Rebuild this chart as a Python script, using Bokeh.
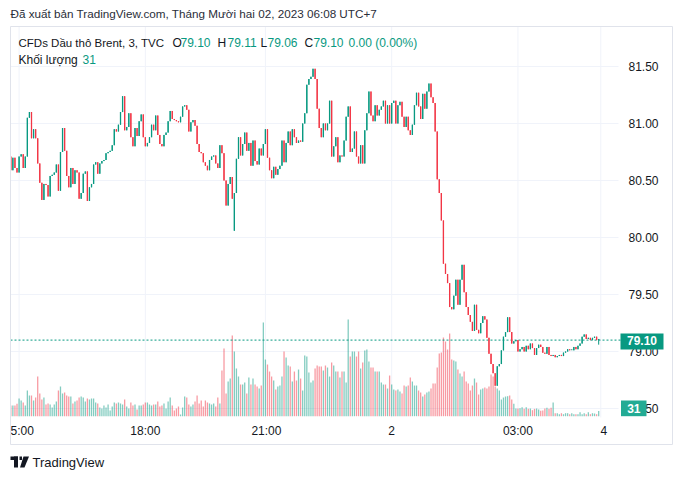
import numpy as np
from bokeh.plotting import figure
from bokeh.models import Range1d, ColumnDataSource
from bokeh.core.properties import value
from bokeh.embed import file_html
from bokeh.resources import INLINE

# ---------------- data (3-minute bars, CFD Brent) ----------------
closes = [
    80.59, 80.70, 80.61, 80.57, 80.71, 80.73, 80.61, 80.71, 81.05, 81.10,
    80.87, 80.95, 80.87, 80.65, 80.48, 80.33, 80.47, 80.46, 80.36, 80.54,
    80.55, 80.57, 80.64, 80.41, 80.75, 80.96, 80.76, 80.54, 80.44, 80.61,
    80.47, 80.59, 80.57, 80.34, 80.39, 80.56, 80.58, 80.32, 80.44, 80.47,
    80.64, 80.66, 80.56, 80.65, 80.67, 80.68, 80.74, 80.75, 80.76, 80.81,
    80.95, 80.93, 80.99, 81.10, 81.24, 80.94, 80.97, 81.09, 80.88, 80.80,
    80.96, 80.89, 81.02, 81.08, 80.88, 80.80, 80.83, 80.88, 80.99, 80.94,
    81.07,
    80.90, 80.82, 80.80, 80.90, 80.92, 81.02, 81.11, 81.04, 81.03, 81.02,
    81.01, 81.06, 81.15, 81.16, 81.12, 80.93, 81.01, 81.03, 80.98, 80.82,
    80.75, 80.74, 80.66, 80.63, 80.59, 80.68, 80.71, 80.72, 80.65, 80.61,
    80.81, 80.74, 80.50, 80.28, 80.47, 80.53, 80.34, 80.39, 80.69, 80.88,
    80.72, 80.82, 80.92, 80.76, 80.83, 80.63, 80.85, 80.67, 80.64, 80.78,
    80.72, 80.82,
    80.95, 80.70, 80.59, 80.52, 80.62, 80.55, 80.60, 80.63, 80.85, 80.66,
    80.83, 80.93, 80.81, 80.95, 80.88, 80.83, 80.85, 80.84, 81.00,
    81.09, 81.34, 81.39, 81.41, 81.48, 81.39, 81.13, 80.96, 80.88, 81.00,
    80.94, 81.00, 81.20, 80.71, 80.80, 80.88, 80.66, 80.72, 80.71, 80.85,
    81.06, 81.15, 80.75, 80.78, 80.93, 80.71, 80.65, 80.81, 80.65, 80.94,
    81.09, 81.28, 81.07, 81.02, 81.16, 81.07, 81.12, 81.15, 81.20, 81.00,
    81.16, 81.00, 81.18, 81.20, 81.00, 81.16, 81.19, 81.06, 80.97, 81.06,
    80.94, 80.90, 80.99, 81.16, 81.27, 81.15, 81.04, 81.26, 81.13, 81.28,
    81.35, 81.23, 81.18, 80.93, 80.51, 80.39, 80.15, 79.77, 79.68, 79.60,
    79.39,
    79.37, 79.49, 79.63, 79.41, 79.63, 79.76, 79.52, 79.39, 79.32, 79.26,
    79.18, 79.41, 79.19, 79.16, 79.25, 79.31, 79.28, 79.12, 78.98, 78.89,
    78.81, 78.70, 78.87, 78.89, 79.01, 79.13, 79.17, 79.30,
    79.17, 79.07, 79.09, 79.10, 79.00, 79.02, 79.04, 79.00, 79.05, 79.02,
    79.07, 79.03, 78.97, 79.03, 79.06, 79.04, 78.99, 78.98, 79.04, 78.97,
    78.96, 78.97, 78.95, 78.96, 78.97, 78.96, 78.99, 79.00, 79.02, 79.01,
    79.01, 79.04, 79.02, 79.05, 79.07, 79.13, 79.15, 79.11, 79.12, 79.10,
    79.12, 79.13, 79.10, 79.10,
]
open_fix_idx = [0, 108]
open_fix_val = [80.71, 80.06]
wick_idx = [284]
wick_low = [79.06]
wick_high = [79.11]

volumes = [
    64, 64, 64, 74, 106, 94, 82, 64, 154, 124,
    124, 94, 112, 238, 136, 100, 112, 70, 76, 70,
    52, 70, 88, 154, 178, 136, 142, 124, 118, 118,
    76, 88, 94, 112, 118, 112, 88, 106, 100, 106,
    106, 82, 76, 52, 46, 64, 52, 70, 34, 58,
    82, 76, 82, 76, 70, 100, 58, 46, 82, 64,
    70, 40, 64, 64, 70, 82, 82, 70, 64, 70,
    70, 88, 58, 64, 76, 46, 88, 112, 64, 34,
    46, 58, 10, 52, 118, 112, 70, 58, 70, 88,
    124, 76, 94, 58, 94, 82, 76, 70, 76, 58,
    112, 76, 274, 406, 136, 208, 226, 484, 388, 286,
    238, 190, 190, 202, 136, 232, 190, 226, 190, 178,
    166, 184, 562, 340, 310, 268, 238, 214, 160, 178,
    184, 238, 388, 352, 304, 298, 208, 268, 214, 280,
    226, 154, 364, 358, 262, 202, 214, 286, 304,
    298, 298, 274, 304, 292, 238, 322, 304, 268, 268,
    232, 268, 268, 202, 580, 358, 388, 388, 358, 388,
    286, 322, 394, 400, 328, 292, 292, 268, 268,
    268, 202, 190, 190, 166, 244, 190, 160, 154, 160,
    148, 136, 184, 178, 184, 232, 208, 184, 184, 154,
    142, 118, 130, 142, 148, 166, 196, 196, 292, 376,
    382, 472, 448, 400, 496, 340, 334, 328, 280, 256,
    238, 268, 208, 196, 154, 184, 226, 202, 130, 160,
    166, 172, 166, 178,
    250, 238, 178, 166, 154, 100, 112, 118, 120, 124,
    100, 74, 46, 46, 48, 54, 44, 54, 44,
    46, 36, 44, 46, 40, 32,
    34, 46, 50, 44, 50, 82, 18, 18, 12, 18,
    12, 18, 18, 12, 18, 12, 12, 12, 24, 12,
    18, 12, 24, 12, 18, 16, 12, 31,
]

price_ticks = [78.5, 79.0, 79.5, 80.0, 80.5, 81.0, 81.5]
time_grid_idx = [4, 65, 123, 184, 245, 285]
time_label_idx = [5.5, 65, 123.5, 184, 245, 286.5]
time_labels = ["5:00", "18:00", "21:00", "2", "03:00", "4"]

symbol_text = "CFDs Dầu thô Brent, 3, TVC"
last_ohlc_names = ["O", "H", "L", "C"]
last_ohlc = ["79.10", "79.11", "79.06", "79.10"]
last_change = "0.00 (0.00%)"
last_price = 79.10
last_volume = 31
header_text = "Đã xuất bản TradingView.com, Tháng Mười hai 02, 2023 06:08 UTC+7"
volume_name = "Khối lượng"
brand = "TradingView"

# ---------------- layout constants (pixels) ----------------
W, H = 682, 479
PANE_L, PANE_R, PANE_T, PANE_B = 10, 612, 26, 417
BOX_R, BOX_B = 672, 444
GRID_R = 618
BAR0_PX, BAR_PX = 10.3, 2.07
P_REF, P_REF_PX, PX_PER_UNIT = 81.5, 66.0, 114.0
VOL_BASE_PX, VOL_PER_PX = 415.7, 6.0

GREEN = "#089981"
RED = "#f23645"
TEXT = "#131722"
GRID = "#f0f3fa"
FONT = "Liberation Sans"


def x_at(px):
    return (px - BAR0_PX) / BAR_PX


def y_at(py):
    return P_REF - (py - P_REF_PX) / PX_PER_UNIT


n = min(len(closes), len(volumes))
closes_a = np.array(closes[:n], dtype=float)
opens_a = np.empty(n)
opens_a[1:] = closes_a[:-1]
opens_a[0] = closes_a[0]
for i, v in zip(open_fix_idx, open_fix_val):
    if i < n:
        opens_a[i] = v
highs_a = np.maximum(opens_a, closes_a)
lows_a = np.minimum(opens_a, closes_a)
for i, lo, hi in zip(wick_idx, wick_low, wick_high):
    if i < n:
        lows_a[i] = min(lows_a[i], lo)
        highs_a[i] = max(highs_a[i], hi)
body_bot = np.minimum(opens_a, closes_a)
body_top = np.maximum(np.maximum(opens_a, closes_a), body_bot + 0.009)
colors = [GREEN if c >= o else RED for o, c in zip(opens_a, closes_a)]

src = ColumnDataSource(dict(
    x=np.arange(n), top=body_top, bottom=body_bot, low=lows_a, high=highs_a,
    color=colors, vol=np.array(volumes[:n], dtype=float)))

p = figure(width=W, height=H, output_backend="svg", toolbar_location=None,
           x_range=Range1d(x_at(0), x_at(W)), y_range=Range1d(y_at(H), y_at(0)),
           x_axis_location=None, y_axis_location=None, title=None,
           min_border=0, min_border_left=0, min_border_right=0,
           min_border_top=0, min_border_bottom=0)
p.extra_y_ranges = {"vol": Range1d(-(H - VOL_BASE_PX) * VOL_PER_PX, VOL_BASE_PX * VOL_PER_PX)}
p.outline_line_color = None
p.background_fill_color = "white"
p.border_fill_color = "white"
p.xgrid.visible = False
p.ygrid.visible = False


def txt(xs, ys, texts, color, size="12px", bold=False, align="left"):
    p.text(x=xs, y=ys, text=texts, text_font=value(FONT), text_font_size=value(size),
           text_color=color, text_align=align, text_baseline="middle",
           text_font_style="bold" if bold else "normal")


# grid lines of the price pane
p.segment(x0=time_grid_idx, x1=time_grid_idx, y0=[y_at(PANE_T)] * len(time_grid_idx),
          y1=[y_at(PANE_B)] * len(time_grid_idx), line_color=GRID, line_width=1)
p.segment(x0=[x_at(PANE_L)] * len(price_ticks), x1=[x_at(GRID_R)] * len(price_ticks),
          y0=price_ticks, y1=price_ticks, line_color=GRID, line_width=1)

# volume
p.vbar(x="x", top="vol", bottom=0, width=0.62, fill_color="color", fill_alpha=0.5,
       line_color=None, y_range_name="vol", source=src)

# last price dotted line
p.segment(x0=[x_at(PANE_L)], x1=[x_at(620)], y0=[last_price], y1=[last_price],
          line_color=GREEN, line_dash="2 2", line_width=1)

# candles
p.segment(x0="x", x1="x", y0="low", y1="high", line_color="color", line_width=1, source=src)
p.vbar(x="x", top="top", bottom="bottom", width=0.62, fill_color="color",
       line_color=None, source=src)

# price scale labels
txt([x_at(628)] * len(price_ticks), price_ticks, [f"{t:.2f}" for t in price_ticks], TEXT)

# time scale labels
txt(time_label_idx, [y_at(430)] * len(time_labels), time_labels, TEXT, align="center")

# last price tag
p.quad(left=[x_at(620)], right=[x_at(663)], top=[y_at(333)], bottom=[y_at(349)],
       fill_color=GREEN, line_color=None)
txt([x_at(641.5)], [last_price], [f"{last_price:.2f}"], "white", bold=True, align="center")

# last volume tag
p.quad(left=[x_at(620.5)], right=[x_at(646)], top=[y_at(400)], bottom=[y_at(415.7)],
       fill_color="#22ab94", line_color=None)
txt([x_at(633.3)], [y_at(408)], [str(last_volume)], "white", bold=True, align="center")

# header / legend
txt([x_at(10)], [y_at(13)], [header_text], "#2a2e39", size="11.7px")
txt([x_at(18)], [y_at(42)], [symbol_text], TEXT, size="11.5px")
legend_x = [(172, 180), (217, 227), (260, 267), (304, 313)]
for (nx, vx), nm, val in zip(legend_x, last_ohlc_names, last_ohlc):
    txt([x_at(nx)], [y_at(42)], [nm], TEXT)
    txt([x_at(vx)], [y_at(42)], [val], GREEN)
txt([x_at(348)], [y_at(42)], [last_change], GREEN)
txt([x_at(18)], [y_at(59)], [volume_name], TEXT)
txt([x_at(82)], [y_at(59)], [str(last_volume)], GREEN)

# outer frame box
p.quad(left=[x_at(PANE_L)], right=[x_at(BOX_R)], top=[y_at(PANE_T)], bottom=[y_at(BOX_B)],
       fill_color=None, line_color="#e0e3eb", line_width=1)

# TradingView footer logo + text
p.quad(left=[x_at(10), x_at(13.5), x_at(19)], right=[x_at(17.5), x_at(17.5), x_at(21.5)],
       top=[y_at(456)] * 3, bottom=[y_at(459.5), y_at(467), y_at(459.5)],
       fill_color=TEXT, line_color=None)
p.patch(x=[x_at(23), x_at(28.5), x_at(24), x_at(19.5)],
        y=[y_at(456), y_at(456), y_at(467), y_at(467)], fill_color=TEXT, line_color=None)
txt([x_at(32)], [y_at(461.5)], [brand], TEXT, size="13px")

open("out.html", "w").write(file_html(p, INLINE))
